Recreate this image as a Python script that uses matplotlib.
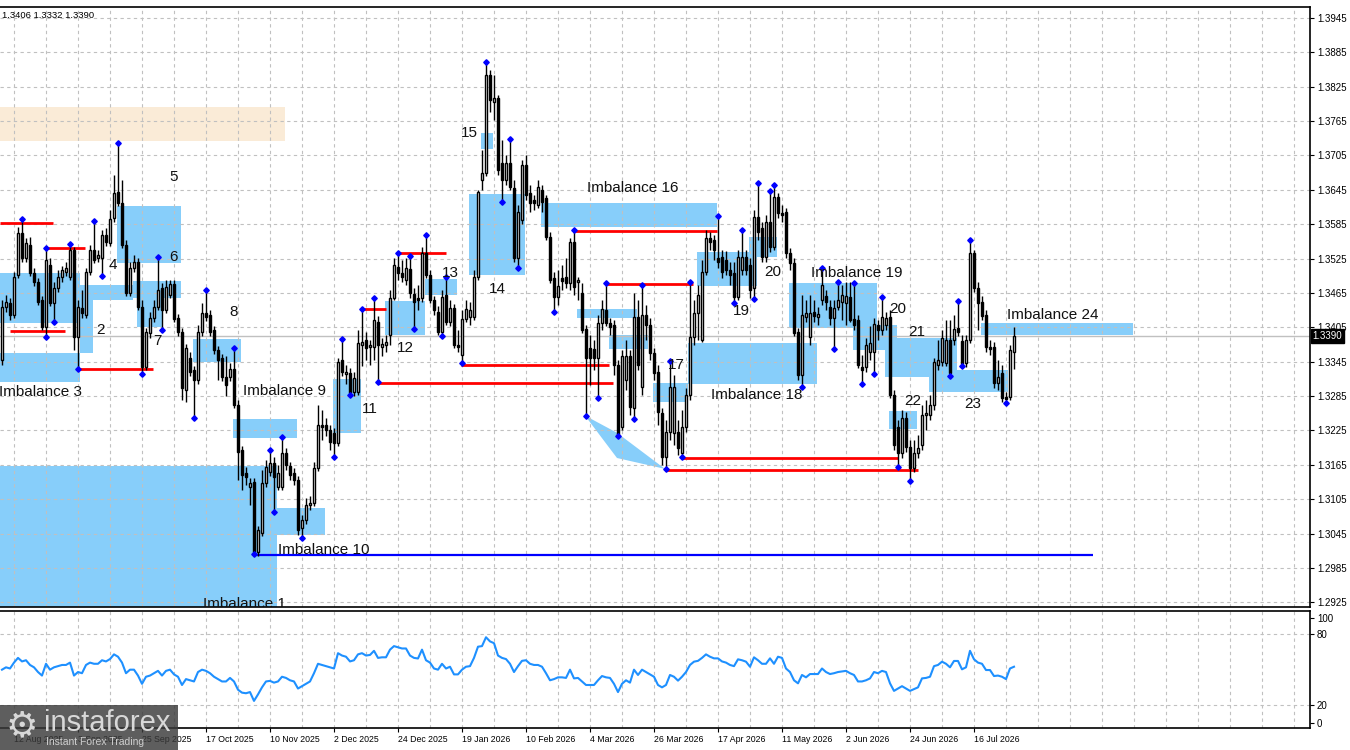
import matplotlib
matplotlib.use("Agg")
import matplotlib.pyplot as plt
from matplotlib.patches import Rectangle, Polygon

plt.rcParams['font.family'] = ['Liberation Sans', 'DejaVu Sans']

# daily candles, bar 0 = 7 Aug 2025
opens = [
    1.3348, 1.3441, 1.3448, 1.3427, 1.3496, 1.3570, 1.3526, 1.3549, 1.3500, 1.3484,  # 0
    1.3453, 1.3406, 1.3514, 1.3448, 1.3474, 1.3493, 1.3502, 1.3493, 1.3540, 1.3388,  # 10
    1.3439, 1.3427, 1.3502, 1.3540, 1.3526, 1.3526, 1.3566, 1.3552, 1.3596, 1.3641,  # 20
    1.3622, 1.3549, 1.3465, 1.3509, 1.3519, 1.3440, 1.3336, 1.3395, 1.3421, 1.3440,  # 30
    1.3474, 1.3435, 1.3461, 1.3481, 1.3421, 1.3397, 1.3296, 1.3352, 1.3331, 1.3313,  # 40
    1.3397, 1.3430, 1.3427, 1.3400, 1.3366, 1.3352, 1.3319, 1.3319, 1.3332, 1.3270,  # 50
    1.3191, 1.3151, 1.3127, 1.3135, 1.3013, 1.3047, 1.3134, 1.3153, 1.3169, 1.3127,  # 60
    1.3127, 1.3186, 1.3163, 1.3151, 1.3139, 1.3055, 1.3069, 1.3095, 1.3099, 1.3160,  # 70
    1.3235, 1.3235, 1.3226, 1.3221, 1.3203, 1.3348, 1.3324, 1.3325, 1.3293, 1.3293,  # 80
    1.3374, 1.3383, 1.3371, 1.3371, 1.3414, 1.3371, 1.3374, 1.3392, 1.3456, 1.3510,  # 90
    1.3500, 1.3488, 1.3507, 1.3463, 1.3456, 1.3456, 1.3535, 1.3496, 1.3453, 1.3432,  # 100
    1.3397, 1.3461, 1.3414, 1.3439, 1.3374, 1.3357, 1.3420, 1.3423, 1.3423, 1.3493,  # 110
    1.3662, 1.3674, 1.3845, 1.3798, 1.3805, 1.3692, 1.3662, 1.3692, 1.3648, 1.3526,  # 120
    1.3592, 1.3688, 1.3639, 1.3627, 1.3619, 1.3645, 1.3631, 1.3563, 1.3491, 1.3458,  # 130
    1.3491, 1.3493, 1.3482, 1.3554, 1.3484, 1.3465, 1.3402, 1.3369, 1.3367, 1.3352,  # 140
    1.3413, 1.3435, 1.3413, 1.3409, 1.3340, 1.3231, 1.3313, 1.3355, 1.3264, 1.3423,  # 150
    1.3301, 1.3427, 1.3409, 1.3360, 1.3327, 1.3256, 1.3179, 1.3223, 1.3221, 1.3223,  # 160
    1.3186, 1.3231, 1.3287, 1.3388, 1.3430, 1.3383, 1.3502, 1.3561, 1.3557, 1.3526,  # 170
    1.3528, 1.3523, 1.3505, 1.3500, 1.3458, 1.3505, 1.3528, 1.3514, 1.3474, 1.3597,  # 180
    1.3578, 1.3528, 1.3589, 1.3545, 1.3632, 1.3604, 1.3606, 1.3535, 1.3517, 1.3397,  # 190
    1.3322, 1.3423, 1.3388, 1.3432, 1.3423, 1.3453, 1.3460, 1.3440, 1.3421, 1.3440,  # 200
    1.3449, 1.3448, 1.3458, 1.3420, 1.3418, 1.3336, 1.3336, 1.3362, 1.3362, 1.3409,  # 210
    1.3400, 1.3409, 1.3423, 1.3287, 1.3231, 1.3186, 1.3247, 1.3196, 1.3160, 1.3186,  # 220
    1.3200, 1.3252, 1.3252, 1.3270, 1.3339, 1.3345, 1.3343, 1.3383, 1.3383, 1.3404,  # 230
    1.3381, 1.3343, 1.3383, 1.3535, 1.3474, 1.3449, 1.3427, 1.3371, 1.3371, 1.3308,  # 240
    1.3325, 1.3284, 1.3284, 1.3362,  # 250
]
highs = [
    1.3453, 1.3461, 1.3456, 1.3502, 1.3580, 1.3594, 1.3561, 1.3563, 1.3509, 1.3491,
    1.3460, 1.3543, 1.3526, 1.3484, 1.3505, 1.3512, 1.3519, 1.3550, 1.3545, 1.3453,
    1.3470, 1.3509, 1.3549, 1.3590, 1.3540, 1.3575, 1.3578, 1.3610, 1.3671, 1.3727,
    1.3662, 1.3557, 1.3519, 1.3531, 1.3526, 1.3453, 1.3404, 1.3432, 1.3453, 1.3528,
    1.3482, 1.3488, 1.3488, 1.3488, 1.3428, 1.3404, 1.3376, 1.3362, 1.3338, 1.3409,
    1.3448, 1.3470, 1.3435, 1.3407, 1.3373, 1.3359, 1.3355, 1.3343, 1.3369, 1.3278,
    1.3198, 1.3162, 1.3142, 1.3142, 1.3059, 1.3156, 1.3174, 1.3191, 1.3179, 1.3165,
    1.3214, 1.3195, 1.3170, 1.3160, 1.3146, 1.3078, 1.3108, 1.3111, 1.3170, 1.3270,
    1.3261, 1.3247, 1.3235, 1.3230, 1.3352, 1.3385, 1.3339, 1.3334, 1.3327, 1.3400,
    1.3437, 1.3397, 1.3383, 1.3456, 1.3425, 1.3387, 1.3392, 1.3470, 1.3526, 1.3535,
    1.3523, 1.3526, 1.3530, 1.3474, 1.3479, 1.3545, 1.3566, 1.3505, 1.3460, 1.3442,
    1.3470, 1.3493, 1.3453, 1.3446, 1.3400, 1.3435, 1.3453, 1.3449, 1.3505, 1.3645,
    1.3714, 1.3868, 1.3854, 1.3845, 1.3810, 1.3732, 1.3706, 1.3734, 1.3662, 1.3618,
    1.3697, 1.3706, 1.3653, 1.3636, 1.3662, 1.3653, 1.3636, 1.3571, 1.3502, 1.3505,
    1.3514, 1.3526, 1.3561, 1.3575, 1.3493, 1.3482, 1.3409, 1.3392, 1.3383, 1.3427,
    1.3453, 1.3482, 1.3421, 1.3418, 1.3348, 1.3366, 1.3383, 1.3366, 1.3465, 1.3453,
    1.3479, 1.3444, 1.3421, 1.3369, 1.3339, 1.3264, 1.3243, 1.3346, 1.3322, 1.3243,
    1.3261, 1.3299, 1.3484, 1.3453, 1.3479, 1.3523, 1.3575, 1.3571, 1.3566, 1.3599,
    1.3540, 1.3538, 1.3519, 1.3519, 1.3540, 1.3575, 1.3540, 1.3526, 1.3610, 1.3657,
    1.3589, 1.3601, 1.3643, 1.3653, 1.3640, 1.3618, 1.3613, 1.3543, 1.3526, 1.3404,
    1.3461, 1.3453, 1.3461, 1.3453, 1.3440, 1.3509, 1.3470, 1.3453, 1.3453, 1.3484,
    1.3479, 1.3484, 1.3484, 1.3482, 1.3427, 1.3357, 1.3386, 1.3407, 1.3421, 1.3418,
    1.3458, 1.3432, 1.3435, 1.3296, 1.3243, 1.3261, 1.3257, 1.3209, 1.3209, 1.3217,
    1.3270, 1.3278, 1.3287, 1.3352, 1.3383, 1.3400, 1.3418, 1.3418, 1.3427, 1.3451,
    1.3392, 1.3392, 1.3557, 1.3540, 1.3484, 1.3460, 1.3435, 1.3383, 1.3380, 1.3348,
    1.3339, 1.3292, 1.3374, 1.3406,
]
lows = [
    1.3339, 1.3432, 1.3418, 1.3421, 1.3491, 1.3519, 1.3519, 1.3495, 1.3477, 1.3444,
    1.3400, 1.3388, 1.3442, 1.3414, 1.3467, 1.3484, 1.3495, 1.3488, 1.3366, 1.3332,
    1.3421, 1.3421, 1.3496, 1.3517, 1.3519, 1.3495, 1.3547, 1.3547, 1.3589, 1.3617,
    1.3543, 1.3460, 1.3460, 1.3502, 1.3435, 1.3324, 1.3331, 1.3386, 1.3414, 1.3435,
    1.3400, 1.3430, 1.3456, 1.3414, 1.3390, 1.3278, 1.3275, 1.3320, 1.3247, 1.3306,
    1.3390, 1.3416, 1.3390, 1.3359, 1.3313, 1.3312, 1.3285, 1.3312, 1.3264, 1.3139,
    1.3121, 1.3130, 1.3095, 1.3010, 1.3006, 1.3041, 1.3127, 1.3146, 1.3083, 1.3121,
    1.3121, 1.3156, 1.3139, 1.3130, 1.3043, 1.3038, 1.3062, 1.3087, 1.3094, 1.3155,
    1.3209, 1.3216, 1.3191, 1.3179, 1.3198, 1.3320, 1.3306, 1.3287, 1.3285, 1.3287,
    1.3338, 1.3348, 1.3339, 1.3348, 1.3310, 1.3355, 1.3362, 1.3374, 1.3453, 1.3488,
    1.3484, 1.3479, 1.3456, 1.3402, 1.3435, 1.3449, 1.3491, 1.3448, 1.3427, 1.3392,
    1.3390, 1.3409, 1.3407, 1.3369, 1.3362, 1.3343, 1.3414, 1.3409, 1.3418, 1.3488,
    1.3645, 1.3669, 1.3781, 1.3767, 1.3671, 1.3624, 1.3653, 1.3645, 1.3519, 1.3509,
    1.3585, 1.3627, 1.3606, 1.3610, 1.3613, 1.3606, 1.3557, 1.3482, 1.3432, 1.3444,
    1.3470, 1.3474, 1.3470, 1.3461, 1.3453, 1.3395, 1.3250, 1.3305, 1.3331, 1.3282,
    1.3400, 1.3407, 1.3392, 1.3322, 1.3215, 1.3226, 1.3296, 1.3252, 1.3245, 1.3331,
    1.3287, 1.3383, 1.3348, 1.3313, 1.3235, 1.3165, 1.3158, 1.3209, 1.3200, 1.3183,
    1.3179, 1.3223, 1.3278, 1.3374, 1.3383, 1.3380, 1.3496, 1.3540, 1.3523, 1.3509,
    1.3491, 1.3496, 1.3479, 1.3448, 1.3453, 1.3496, 1.3496, 1.3456, 1.3455, 1.3557,
    1.3519, 1.3519, 1.3536, 1.3540, 1.3596, 1.3589, 1.3526, 1.3505, 1.3390, 1.3313,
    1.3301, 1.3414, 1.3374, 1.3414, 1.3409, 1.3444, 1.3435, 1.3409, 1.3367, 1.3435,
    1.3418, 1.3409, 1.3414, 1.3400, 1.3334, 1.3306, 1.3327, 1.3348, 1.3324, 1.3383,
    1.3392, 1.3400, 1.3282, 1.3191, 1.3162, 1.3177, 1.3188, 1.3137, 1.3153, 1.3177,
    1.3191, 1.3226, 1.3243, 1.3261, 1.3331, 1.3338, 1.3338, 1.3320, 1.3374, 1.3390,
    1.3338, 1.3336, 1.3378, 1.3467, 1.3400, 1.3418, 1.3362, 1.3357, 1.3299, 1.3296,
    1.3275, 1.3273, 1.3278, 1.3332,
]
closes = [
    1.3440, 1.3449, 1.3427, 1.3493, 1.3570, 1.3526, 1.3552, 1.3500, 1.3484, 1.3449,
    1.3406, 1.3523, 1.3448, 1.3474, 1.3493, 1.3505, 1.3509, 1.3540, 1.3388, 1.3440,
    1.3430, 1.3502, 1.3540, 1.3523, 1.3531, 1.3566, 1.3554, 1.3594, 1.3639, 1.3622,
    1.3549, 1.3465, 1.3509, 1.3519, 1.3440, 1.3336, 1.3397, 1.3421, 1.3440, 1.3470,
    1.3435, 1.3475, 1.3481, 1.3420, 1.3397, 1.3299, 1.3369, 1.3327, 1.3313, 1.3397,
    1.3430, 1.3423, 1.3397, 1.3366, 1.3348, 1.3319, 1.3305, 1.3332, 1.3270, 1.3188,
    1.3148, 1.3144, 1.3134, 1.3013, 1.3052, 1.3134, 1.3162, 1.3169, 1.3144, 1.3151,
    1.3186, 1.3165, 1.3148, 1.3139, 1.3052, 1.3069, 1.3095, 1.3099, 1.3160, 1.3235,
    1.3231, 1.3226, 1.3205, 1.3203, 1.3345, 1.3327, 1.3327, 1.3291, 1.3317, 1.3378,
    1.3380, 1.3369, 1.3374, 1.3418, 1.3374, 1.3376, 1.3380, 1.3456, 1.3514, 1.3500,
    1.3493, 1.3509, 1.3465, 1.3449, 1.3453, 1.3535, 1.3496, 1.3453, 1.3435, 1.3397,
    1.3458, 1.3414, 1.3439, 1.3374, 1.3371, 1.3420, 1.3437, 1.3435, 1.3493, 1.3641,
    1.3674, 1.3845, 1.3802, 1.3805, 1.3680, 1.3662, 1.3692, 1.3650, 1.3526, 1.3606,
    1.3688, 1.3636, 1.3622, 1.3622, 1.3650, 1.3624, 1.3563, 1.3488, 1.3458, 1.3477,
    1.3486, 1.3482, 1.3554, 1.3475, 1.3488, 1.3400, 1.3352, 1.3352, 1.3352, 1.3413,
    1.3437, 1.3413, 1.3406, 1.3340, 1.3217, 1.3355, 1.3355, 1.3266, 1.3423, 1.3340,
    1.3427, 1.3409, 1.3360, 1.3326, 1.3257, 1.3179, 1.3223, 1.3301, 1.3301, 1.3195,
    1.3231, 1.3287, 1.3388, 1.3430, 1.3461, 1.3502, 1.3561, 1.3554, 1.3540, 1.3519,
    1.3502, 1.3505, 1.3496, 1.3458, 1.3528, 1.3528, 1.3505, 1.3470, 1.3597, 1.3571,
    1.3528, 1.3589, 1.3545, 1.3632, 1.3604, 1.3601, 1.3535, 1.3517, 1.3395, 1.3322,
    1.3427, 1.3430, 1.3430, 1.3425, 1.3428, 1.3479, 1.3449, 1.3421, 1.3439, 1.3453,
    1.3461, 1.3460, 1.3418, 1.3409, 1.3340, 1.3331, 1.3374, 1.3378, 1.3411, 1.3400,
    1.3423, 1.3421, 1.3287, 1.3200, 1.3186, 1.3247, 1.3196, 1.3160, 1.3186, 1.3195,
    1.3252, 1.3256, 1.3270, 1.3345, 1.3348, 1.3387, 1.3383, 1.3326, 1.3402, 1.3397,
    1.3341, 1.3383, 1.3535, 1.3474, 1.3448, 1.3425, 1.3371, 1.3367, 1.3308, 1.3319,
    1.3282, 1.3280, 1.3366, 1.3390,
]
oscillator = [
    50, 52, 51, 56, 60, 57, 58, 54, 52, 48,
    45, 55, 50, 52, 53, 54, 54, 56, 45, 48,
    47, 54, 56, 55, 55, 58, 57, 59, 63, 61,
    56, 47, 50, 50, 45, 38, 44, 45, 47, 49,
    45, 49, 50, 46, 44, 37, 42, 41, 40, 48,
    50, 49, 47, 44, 42, 40, 40, 43, 40, 33,
    30.5, 30, 31, 23.5, 29, 35, 40, 40.5, 39, 40,
    44, 43, 41, 40, 34, 36, 38, 40, 47, 55,
    54, 53, 52, 51, 64, 62, 61, 57, 58, 63,
    64, 62, 62.5, 66, 60, 60.5, 60.5, 67, 70, 69,
    68, 68, 62, 60, 59.5, 67, 58, 56, 51, 50,
    55, 51, 52.5, 46, 46, 50, 52.5, 53, 60, 69.5,
    70, 77.5, 74, 72.5, 62, 60, 59, 55, 48, 53,
    57.5, 58, 55, 54, 54, 52.5, 47, 41, 42, 43.5,
    43.5, 43, 50, 42.6, 43, 40, 37, 37, 37, 41,
    44.6, 43.5, 43, 38, 31, 38, 41, 39, 50, 45.5,
    50, 48, 46, 44, 37, 35, 37, 45.5, 44, 40.7,
    44, 48, 54, 56.8, 57.5, 60, 63, 61, 59.6, 59.6,
    57, 56, 54, 53, 58.8, 58, 56.8, 52.5, 60.5, 58,
    55, 55, 59.6, 55, 61, 60, 51, 48, 41, 38.4,
    45.5, 43.5, 46.3, 46.3, 46.3, 51, 48, 46.3, 47, 48,
    48.5, 49, 47, 45.5, 40, 40, 41, 42.6, 48, 47,
    49, 48, 38.4, 32, 34, 36, 34, 32, 33.5, 35,
    42.6, 43, 44, 53, 54, 56.8, 55, 52, 57.4, 57.4,
    50.3, 52, 66, 58.8, 56, 55, 49.7, 49.7, 44.6, 45,
    44, 42, 51, 52.5,
]

swing_high_bars = [5, 11, 17, 23, 29, 39, 51, 58, 67, 70, 85, 90, 93, 99, 102, 106, 111,
                   121, 127, 143, 151, 160, 167, 172, 179, 185, 189, 192, 193, 205, 209,
                   213, 220, 239, 242]
swing_low_bars = [11, 13, 19, 25, 35, 40, 48, 63, 68, 75, 83, 87, 94, 103, 110, 115, 125,
                  129, 138, 146, 149, 154, 158, 166, 170, 183, 188, 200, 208, 215, 218,
                  224, 227, 237, 240, 251]

date_bars = [3, 19, 35, 51, 67, 83, 99, 115, 131, 147, 163, 179, 195, 211, 227, 243]
date_labels = ["12 Aug 2025", "3 Sep 2025", "25 Sep 2025", "17 Oct 2025", "10 Nov 2025",
               "2 Dec 2025", "24 Dec 2025", "19 Jan 2026", "10 Feb 2026", "4 Mar 2026",
               "26 Mar 2026", "17 Apr 2026", "11 May 2026", "2 Jun 2026", "24 Jun 2026",
               "16 Jul 2026"]
price_ticks = [1.2925, 1.2985, 1.3045, 1.3105, 1.3165, 1.3225, 1.3285, 1.3345, 1.3405,
               1.3465, 1.3525, 1.3585, 1.3645, 1.3705, 1.3765, 1.3825, 1.3885, 1.3945]
last_price = 1.3390

# imbalance zones: (first bar, last bar, low price, high price)
supply_zone = (-0.5, 70.75, 1.3730, 1.3789)
imbalance_zones = [
    (-0.5, 19.5, 1.3413, 1.3500), (-0.5, 19.5, 1.3310, 1.3360), (19.5, 22.75, 1.3360, 1.3479),
    (22.75, 32.75, 1.3453, 1.3479), (28.75, 44.75, 1.3517, 1.3617), (32.75, 44.75, 1.3456, 1.3486),
    (33.75, 40.0, 1.3406, 1.3456), (47.75, 59.75, 1.3345, 1.3385), (57.75, 73.75, 1.3212, 1.3245),
    (-0.5, 68.75, 1.2900, 1.3163), (68.75, 80.75, 1.3043, 1.3090), (82.75, 89.75, 1.3221, 1.3315),
    (95.75, 105.75, 1.3392, 1.3451), (105.75, 113.75, 1.3462, 1.3490), (116.75, 130.75, 1.3496, 1.3638),
    (119.75, 122.75, 1.3716, 1.3744), (134.75, 178.75, 1.3580, 1.3622), (143.75, 158.75, 1.3421, 1.3437),
    (151.75, 161.5, 1.3367, 1.3392), (162.75, 171.5, 1.3275, 1.3308), (171.5, 203.75, 1.3306, 1.3378),
    (173.75, 188.75, 1.3477, 1.3537), (186.75, 193.75, 1.3528, 1.3563), (196.75, 218.75, 1.3404, 1.3483),
    (212.75, 223.75, 1.3366, 1.3409), (220.75, 238.75, 1.3319, 1.3387), (221.75, 228.75, 1.3228, 1.3259),
    (231.75, 251.5, 1.3292, 1.3331), (244.75, 282.75, 1.3392, 1.3413),
]
sweep_shape = [(145.75, 1.3251), (153.75, 1.3221), (165.75, 1.3158), (153.75, 1.3177)]

# liquidity levels: (first bar, last bar, price)
red_levels = [
    (-0.5, 12.75, 1.3587), (10.75, 20.75, 1.3544), (2.0, 15.75, 1.3399), (18.75, 37.75, 1.3333),
    (89.75, 96.0, 1.3437), (98.75, 111.0, 1.3535), (93.75, 152.75, 1.3308), (114.75, 151.75, 1.3339),
    (142.75, 178.75, 1.3573), (150.75, 172.75, 1.3481), (169.75, 224.0, 1.3177), (165.75, 229.0, 1.3156),
]
blue_level = (63.25, 272.75, 1.3008)

zone_labels = [
    ("Imbalance 3", -0.75, 1.3292), ("2", 23.5, 1.3400), ("4", 26.75, 1.3514), ("5", 41.75, 1.3667),
    ("6", 41.75, 1.3528), ("7", 37.75, 1.3381), ("8", 56.75, 1.3432), ("Imbalance 9", 60.25, 1.3294),
    ("Imbalance 10", 69.0, 1.3017), ("Imbalance 1", 50.25, 1.2923), ("11", 90.0, 1.3263),
    ("12", 98.75, 1.3369), ("13", 110.0, 1.3500), ("14", 121.75, 1.3472), ("15", 114.75, 1.3744),
    ("Imbalance 16", 146.25, 1.3648), ("17", 166.5, 1.3339), ("Imbalance 18", 177.25, 1.3287),
    ("19", 182.75, 1.3434), ("20", 190.5, 1.3502), ("Imbalance 19", 202.25, 1.3500),
    ("20", 221.75, 1.3437), ("21", 226.5, 1.3397), ("22", 225.5, 1.3277), ("23", 240.5, 1.3271),
    ("Imbalance 24", 251.25, 1.3427),
]

W, H = 1350, 750
fig = plt.figure(figsize=(13.5, 7.5), dpi=100)
ax = fig.add_axes([0, 143 / H, 1310 / W, 600 / H])
ax2 = fig.add_axes([0, 22 / H, 1310 / W, 117 / H])

grid_kw = dict(color='#c0c0c0', lw=0.8, ls=(0, (3, 3)), zorder=1.5)
for a in (ax, ax2):
    a.set_xlim(-0.5, 327)
    a.spines['left'].set_visible(False)
    for s in ('top', 'right', 'bottom'):
        a.spines[s].set_color('black')
        a.spines[s].set_linewidth(1.2)
    for b in range(3, 327, 8):
        a.axvline(b, **grid_kw)

ax.set_ylim(1.2917, 1.3964)
for t in price_ticks:
    ax.axhline(t, **grid_kw)

# zones
ax.add_patch(Rectangle((supply_zone[0], supply_zone[2]), supply_zone[1] - supply_zone[0],
                       supply_zone[3] - supply_zone[2], facecolor='#faebd7', edgecolor='none', zorder=1))
for x0, x1, lo, hi in imbalance_zones:
    ax.add_patch(Rectangle((x0, lo), x1 - x0, hi - lo, facecolor='#87cefa', edgecolor='none', zorder=1))
ax.add_patch(Polygon(sweep_shape, closed=True, facecolor='#87cefa', edgecolor='none', zorder=1))

ax.axhline(last_price, color='#c0c0c0', lw=1, zorder=1.6)

for x0, x1, p in red_levels:
    ax.hlines(p, x0, x1, color='#ff0000', lw=2, zorder=2)
ax.hlines(blue_level[2], blue_level[0], blue_level[1], color='#0000ff', lw=1.6, zorder=2)

# candles
xs = list(range(len(closes)))
ax.vlines(xs, lows, highs, color='black', lw=1.0, zorder=3)
for i in xs:
    o, c = opens[i], closes[i]
    face = 'white' if c >= o else 'black'
    ax.bar(i, abs(c - o), bottom=min(o, c), width=0.6, color=face,
           edgecolor='black', linewidth=1.0, zorder=3.2)

ax.plot(swing_high_bars, [highs[i] for i in swing_high_bars], 'D', color='#0000ff', ms=2.8, zorder=4)
ax.plot(swing_low_bars, [lows[i] for i in swing_low_bars], 'D', color='#0000ff', ms=2.8, zorder=4)

for txt, b, p in zone_labels:
    ax.text(b, p, txt, fontsize=11, color='#111111', ha='left', va='center', zorder=5, clip_on=True)

ax.text(0.0015, 0.993, "1.3406 1.3332 1.3390", transform=ax.transAxes, fontsize=6.8,
        ha='left', va='top', color='black')

ax.yaxis.tick_right()
ax.set_yticks(price_ticks)
ax.set_yticklabels([f"{t:.4f}" for t in price_ticks])
ax.tick_params(axis='y', direction='out', length=3, width=0.8, pad=2, labelsize=7)
ax.set_xticks([])
ax.text(1.002, last_price, "1.3390", transform=ax.get_yaxis_transform(), fontsize=7,
        color='white', ha='left', va='center', zorder=6,
        bbox=dict(facecolor='black', edgecolor='black', pad=1.2))

# oscillator panel
ax2.set_ylim(0.5, 99.8)
ax2.axhline(80, **grid_kw)
ax2.axhline(20, **grid_kw)
ax2.plot(xs, oscillator, color='#1e90ff', lw=1.5, zorder=3)
ax2.yaxis.tick_right()
ax2.set_yticks([5, 20, 80, 94])
ax2.set_yticklabels(['0', '20', '80', '100'])
ax2.tick_params(axis='y', direction='out', length=3, width=0.8, pad=2, labelsize=7)
ax2.set_xticks(date_bars)
ax2.set_xticklabels(date_labels, ha='left')
ax2.tick_params(axis='x', direction='out', length=3, width=0.8, pad=2, labelsize=6.3)

# watermark logo
fig.add_artist(Rectangle((0, 0), 178 / W, 45 / H, transform=fig.transFigure,
                         facecolor='#3a3a3a', alpha=0.82, edgecolor='none', zorder=10))
fig.text(6 / W, 24 / H, "\u2699", fontsize=26, color='#d8d8d8', family='DejaVu Sans',
         ha='left', va='center', zorder=11)
fig.text(44 / W, 27 / H, "instaforex", fontsize=21, color='#d8d8d8', ha='left', va='center', zorder=11)
fig.text(46 / W, 8 / H, "Instant Forex Trading", fontsize=7.5, color='#cfcfcf', ha='left',
         va='center', zorder=11)

fig.savefig("out.png", dpi=100, facecolor='white')
